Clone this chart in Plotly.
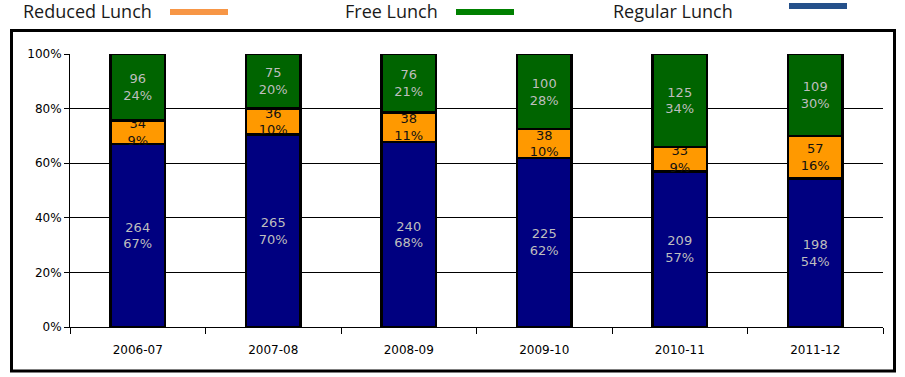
import plotly.graph_objects as go
import numpy as np

years = ["2006-07", "2007-08", "2008-09", "2009-10", "2010-11", "2011-12"]
regular = [264, 265, 240, 225, 209, 198]
reduced = [34, 36, 38, 38, 33, 57]
free = [96, 75, 76, 100, 125, 109]

series_names = ["Regular Lunch", "Reduced Lunch", "Free Lunch"]
bar_colors = ["#000080", "#FF9900", "#006400"]
label_colors = ["#BEBEBE", "#111111", "#BEBEBE"]
legend_colors = {"Reduced Lunch": "#F79646", "Free Lunch": "#008000", "Regular Lunch": "#25508A"}

totals = np.array(regular) + np.array(reduced) + np.array(free)

W, H = 905, 377
ML, MR, MT, MB = 70, 22, 54, 50
PW, PH = W - ML - MR, H - MT - MB


def px_x(x):
    return (x - ML) / PW


def px_y(y):
    return (H - MB - y) / PH


fig = go.Figure()
for name, vals, col, tcol in zip(series_names, [regular, reduced, free], bar_colors, label_colors):
    pct = np.rint(np.array(vals) / totals * 100).astype(int)
    labels = [f"{v}<br>{p}%" for v, p in zip(vals, pct)]
    fig.add_trace(go.Bar(
        x=years, y=vals, name=name,
        marker=dict(color=col, line=dict(color="#000000", width=2.5)),
        text=labels, textposition="inside", insidetextanchor="middle",
        constraintext="none", textangle=0,
        insidetextfont=dict(family="DejaVu Sans", size=13, color=tcol),
        showlegend=False,
    ))

fig.update_layout(
    barmode="stack", barnorm="percent", bargap=0.6,
    width=W, height=H,
    margin=dict(l=ML, r=MR, t=MT, b=MB, pad=0, autoexpand=False),
    paper_bgcolor="white", plot_bgcolor="white",
    font=dict(family="DejaVu Sans", size=12, color="#000000"),
)
fig.update_yaxes(
    range=[0, 100], dtick=20, ticksuffix="%",
    showgrid=True, gridcolor="#000000", gridwidth=1,
    showline=True, linecolor="#000000", linewidth=1,
    ticks="outside", ticklen=5, tickcolor="#000000",
    zeroline=False, fixedrange=True, automargin=False,
)
fig.update_xaxes(
    type="category",
    showline=True, linecolor="#000000", linewidth=1,
    ticks="outside", ticklen=6, tickcolor="#000000", tickson="boundaries",
    ticklabelstandoff=12, showgrid=False, automargin=False,
)

# outer frame
fig.add_shape(type="rect", xref="paper", yref="paper",
              x0=px_x(11.5), x1=px_x(894.5), y0=px_y(371), y1=px_y(30.5),
              line=dict(color="#000000", width=3), fillcolor="rgba(0,0,0,0)", layer="below")

# legend (text then swatch line)
legend_items = [("Reduced Lunch", 22, 170, 228, 12), ("Free Lunch", 344, 456, 514, 12),
                ("Regular Lunch", 612, 789, 847, 6)]
for name, tx, lx0, lx1, ly in legend_items:
    fig.add_annotation(xref="paper", yref="paper", x=px_x(tx), y=px_y(-2),
                       xanchor="left", yanchor="top", showarrow=False, text=name,
                       borderpad=0,
                       font=dict(family="Open Sans", size=18, color="#1a1a1a"))
    fig.add_shape(type="line", xref="paper", yref="paper",
                  x0=px_x(lx0), x1=px_x(lx1), y0=px_y(ly), y1=px_y(ly),
                  line=dict(color=legend_colors[name], width=6))

fig.write_html("out.html", config={"displayModeBar": False},
               post_script="document.body.style.margin='0px';")
